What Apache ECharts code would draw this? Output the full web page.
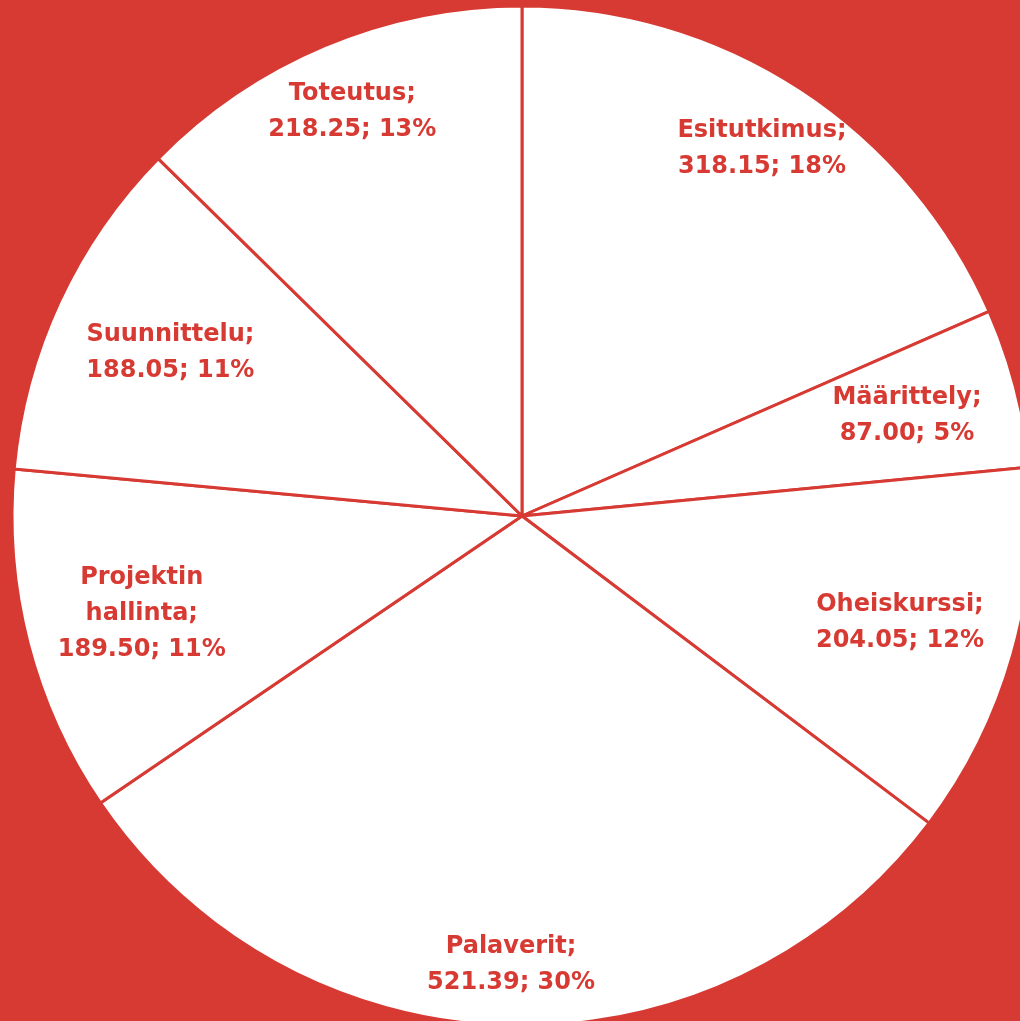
<!DOCTYPE html>
<html><head><meta charset="utf-8">
<script src="https://cdn.jsdelivr.net/npm/echarts@6/dist/echarts.min.js"></script>
<style>html,body{margin:0;padding:0;background:#D73A33;}#c{width:1020px;height:1021px;}</style>
</head><body><div id="c"></div>
<script>
const categories = ['Esitutkimus', 'Määrittely', 'Oheiskurssi', 'Palaverit', 'Projektin\nhallinta', 'Suunnittelu', 'Toteutus'];
const values = [318.15, 87.00, 204.05, 521.39, 189.50, 188.05, 218.25];
const percents = [18, 5, 12, 30, 11, 11, 13];
// radial label placement as fraction of radius (Excel best-fit look)
const labelRadius = [0.86, 0.78, 0.77, 0.88, 0.77, 0.76, 0.86];

const CX = 522, CY = 516, R = 510;
const chart = echarts.init(document.getElementById('c'), null, {renderer: 'canvas'});
const data = categories.map((n, i) => ({name: n, value: values[i]}));
chart.setOption({
  backgroundColor: '#D73A33',
  animation: false,
  series: [{
    type: 'pie',
    center: [CX, CY],
    radius: [0, R],
    startAngle: 90,
    clockwise: true,
    data: data,
    itemStyle: {color: '#ffffff', borderColor: '#D73A33', borderWidth: 3},
    emphasis: {disabled: true},
    label: {
      show: true,
      position: 'inside',
      color: '#D73A33',
      fontFamily: 'DejaVu Sans',
      fontWeight: 'bold',
      fontSize: 24,
      lineHeight: 36,
      align: 'center',
      formatter: p => p.name + ';\n' + values[p.dataIndex].toFixed(2) + '; ' + percents[p.dataIndex] + '%'
    },
    labelLine: {show: false},
    labelLayout: function (params) {
      const r = params.labelRect;
      const lx = r.x + r.width / 2, ly = r.y + r.height / 2;
      const dx = lx - CX, dy = ly - CY;
      const d = Math.sqrt(dx * dx + dy * dy) || 1;
      const t = labelRadius[params.dataIndex] * R / d;
      return {x: CX + dx * t, y: CY + dy * t};
    }
  }]
});
</script></body></html>
